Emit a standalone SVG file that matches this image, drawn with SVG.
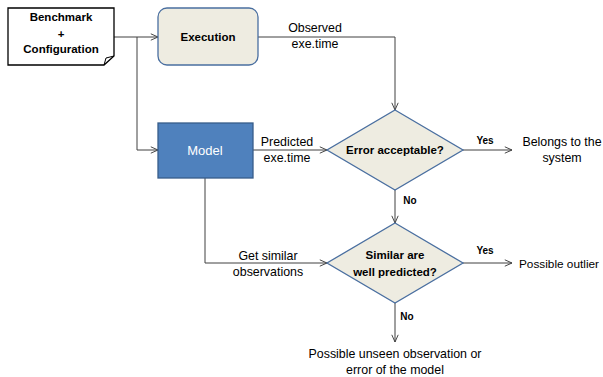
<svg xmlns="http://www.w3.org/2000/svg" width="603" height="377" viewBox="0 0 603 377">
<style>
text{font-family:"Liberation Sans",Arial,sans-serif;font-size:12.4px;fill:#000;text-anchor:middle}
.b{font-weight:bold;font-size:11.5px}
.s{font-size:10px;font-weight:bold}
.ln{fill:none;stroke:#404040;stroke-width:1}
.dec{fill:#EEECE1;stroke:#4A6FA0;stroke-width:1.3}
</style>
<defs>
<marker id="ar" viewBox="0 0 10 10" refX="10" refY="5" markerWidth="8" markerHeight="8" markerUnits="userSpaceOnUse" orient="auto">
<path d="M1,1 L10,5 L1,9" fill="none" stroke="#404040" stroke-width="1.2"/>
</marker>
</defs>
<g id="connectors">
<path class="ln" d="M114,37 H158" marker-end="url(#ar)"/>
<path class="ln" d="M137,37 V150 H158" marker-end="url(#ar)"/>
<path class="ln" d="M258,37 H395 V110" marker-end="url(#ar)"/>
<path class="ln" d="M253,150 H327" marker-end="url(#ar)"/>
<path class="ln" d="M463,150 H512" marker-end="url(#ar)"/>
<path class="ln" d="M395,190 V223" marker-end="url(#ar)"/>
<path class="ln" d="M205,178 V263 H327" marker-end="url(#ar)"/>
<path class="ln" d="M463,263 H512" marker-end="url(#ar)"/>
<path class="ln" d="M395,303 V342" marker-end="url(#ar)"/>
<text x="315" y="32">Observed</text>
<text x="315" y="48">exe.time</text>
<text x="287" y="146">Predicted</text>
<text x="287" y="162">exe.time</text>
<text x="268" y="260">Get similar</text>
<text x="268" y="276">observations</text>
<text class="s" x="485" y="144">Yes</text>
<text class="s" x="410" y="204">No</text>
<text class="s" x="485" y="254">Yes</text>
<text class="s" x="407" y="320">No</text>
</g>
<g id="input">
<path d="M8,8 H114 V56 L104,65 H8 Z" fill="#fff" stroke="#000" stroke-width="1.3"/>
<path d="M104,65 L106,58 L114,56" fill="none" stroke="#000" stroke-width="1"/>
<text class="b" x="61" y="21">Benchmark</text>
<text class="b" x="61" y="38">+</text>
<text class="b" x="61" y="53">Configuration</text>
</g>
<g id="execution">
<rect x="158" y="8" width="100" height="57" rx="9" class="dec"/>
<text class="b" x="208" y="41">Execution</text>
</g>
<g id="model">
<rect x="158" y="123" width="95" height="55" fill="#4F81BD" stroke="#385D8A" stroke-width="1.3"/>
<text x="205" y="155" style="fill:#fff;font-size:13px">Model</text>
</g>
<g id="error">
<path d="M395,110 L463,150 L395,190 L327,150 Z" class="dec"/>
<text class="b" x="395" y="154">Error acceptable?</text>
</g>
<g id="similar">
<path d="M395,223 L463,263 L395,303 L327,263 Z" class="dec"/>
<text class="b" x="395" y="259">Similar are</text>
<text class="b" x="395" y="276">well predicted?</text>
</g>
<g id="belongs">
<text x="562" y="146">Belongs to the</text>
<text x="562" y="162">system</text>
</g>
<g id="outlier">
<text x="519" y="268" style="text-anchor:start;font-size:11.8px">Possible outlier</text>
</g>
<g id="unseen">
<text x="395" y="358">Possible unseen observation or</text>
<text x="395" y="374">error of the model</text>
</g>
</svg>
